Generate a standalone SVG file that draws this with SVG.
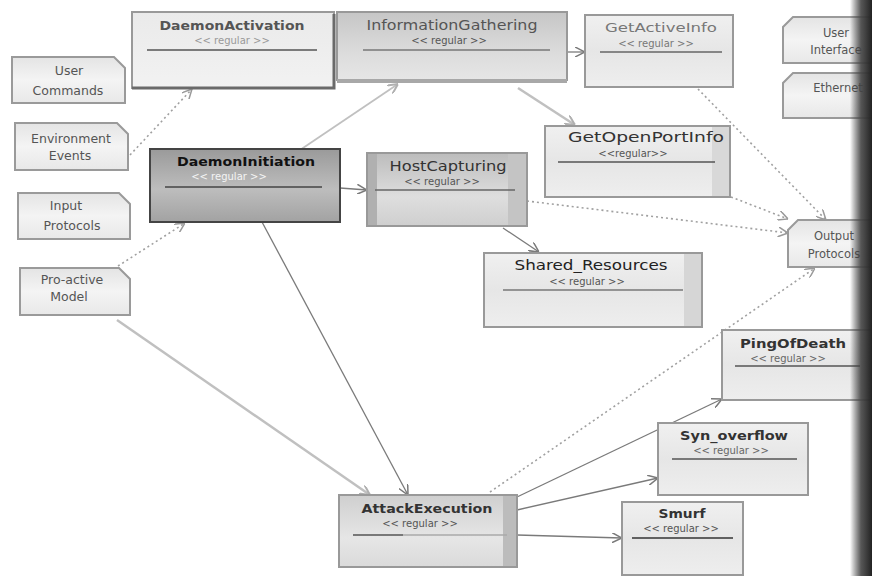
<svg xmlns="http://www.w3.org/2000/svg" width="872" height="576" viewBox="0 0 872 576">
<style>
.t{font-family:"DejaVu Sans","Liberation Sans",sans-serif;font-weight:bold;font-size:13px;fill:#333;text-anchor:middle}
.s{font-family:"DejaVu Sans","Liberation Sans",sans-serif;font-size:10px;fill:#555;text-anchor:middle}
.n{font-family:"DejaVu Sans","Liberation Sans",sans-serif;font-size:12.5px;fill:#555;text-anchor:middle}
.sep{stroke:#555;stroke-width:1.5}
.box{stroke:#999;stroke-width:2}
.note{fill:url(#gNote);stroke:#9a9a9a;stroke-width:2}
.c{fill:none;stroke:#7a7a7a;stroke-width:1.3}
.cl{fill:none;stroke:#c0c0c0;stroke-width:2.5}
.d{fill:none;stroke:#a0a0a0;stroke-width:1.6;stroke-dasharray:2 3}
</style>
<defs>
<linearGradient id="gLight" x1="0" y1="0" x2="0" y2="1"><stop offset="0" stop-color="#f0f0f0"/><stop offset="0.5" stop-color="#e6e6e6"/><stop offset="1" stop-color="#eeeeee"/></linearGradient>
<linearGradient id="gAct" x1="0" y1="0" x2="0" y2="1"><stop offset="0" stop-color="#eaeaea"/><stop offset="1" stop-color="#f2f2f2"/></linearGradient>
<linearGradient id="gInfo" x1="0" y1="0" x2="0" y2="1"><stop offset="0" stop-color="#c6c6c6"/><stop offset="0.6" stop-color="#dcdcdc"/><stop offset="1" stop-color="#e6e6e6"/></linearGradient>
<linearGradient id="gInit" x1="0" y1="0" x2="0" y2="1"><stop offset="0" stop-color="#9a9a9a"/><stop offset="0.55" stop-color="#bdbdbd"/><stop offset="1" stop-color="#a2a2a2"/></linearGradient>
<linearGradient id="gHost" x1="0" y1="0" x2="0" y2="1"><stop offset="0" stop-color="#bcbcbc"/><stop offset="0.6" stop-color="#dedede"/><stop offset="1" stop-color="#cfcfcf"/></linearGradient>
<linearGradient id="gAtk" x1="0" y1="0" x2="0" y2="1"><stop offset="0" stop-color="#cfcfcf"/><stop offset="0.6" stop-color="#e6e6e6"/><stop offset="1" stop-color="#dadada"/></linearGradient>
<linearGradient id="gNote" x1="0" y1="0" x2="0" y2="1"><stop offset="0" stop-color="#e4e4e4"/><stop offset="0.5" stop-color="#f4f4f4"/><stop offset="1" stop-color="#e8e8e8"/></linearGradient>
<linearGradient id="gBand" x1="0" y1="0" x2="1" y2="0"><stop offset="0" stop-color="#333" stop-opacity="0"/><stop offset="0.5" stop-color="#444" stop-opacity="0.9"/><stop offset="1" stop-color="#222"/></linearGradient>
<marker id="a" viewBox="0 0 10 10" refX="10" refY="5" markerWidth="10" markerHeight="10" markerUnits="userSpaceOnUse" orient="auto"><path d="M0,0 L10,5 L0,10" fill="none" stroke="#7a7a7a" stroke-width="1.5"/></marker>
<marker id="al" viewBox="0 0 10 10" refX="10" refY="5" markerWidth="10" markerHeight="10" markerUnits="userSpaceOnUse" orient="auto"><path d="M0,0 L10,5 L0,10" fill="none" stroke="#b0b0b0" stroke-width="2"/></marker>
<marker id="ad" viewBox="0 0 10 10" refX="10" refY="5" markerWidth="10" markerHeight="10" markerUnits="userSpaceOnUse" orient="auto"><path d="M0,0 L10,5 L0,10" fill="none" stroke="#9a9a9a" stroke-width="1.5"/></marker>
</defs>
<rect width="872" height="576" fill="#ffffff"/>

<g id="connectors">
<path class="d" d="M130,155 L192,89" marker-end="url(#ad)"/>
<path class="d" d="M118,266 L185,223" marker-end="url(#ad)"/>
<path class="cl" d="M300,150 L398,84" marker-end="url(#al)" style="stroke-width:1.8"/>
<path class="c" d="M340,188 L367,190" marker-end="url(#a)"/>
<path class="c" d="M567,52 L585,52" marker-end="url(#a)"/>
<path class="cl" d="M518,88 L575,125" marker-end="url(#al)"/>
<path class="c" d="M503,228 L539,252" marker-end="url(#a)"/>
<path class="d" d="M527,201 L788,233" marker-end="url(#ad)"/>
<path class="d" d="M731,197 L788,219" marker-end="url(#ad)"/>
<path class="d" d="M698,89 L826,220" marker-end="url(#ad)"/>
<path class="d" d="M490,492 L815,268" marker-end="url(#ad)"/>
<path class="c" d="M262,222 L408,495" marker-end="url(#a)"/>
<path class="cl" d="M117,320 L370,495" marker-end="url(#al)"/>
<path class="c" d="M517,497 L722,399" marker-end="url(#a)"/>
<path class="c" d="M517,510 L658,478" marker-end="url(#a)"/>
<path class="c" d="M517,535 L622,538" marker-end="url(#a)"/>
</g>

<g id="DaemonActivation">
<rect class="box" x="132" y="12" width="202" height="76" fill="url(#gAct)" stroke="#8a8a8a"/>
<path d="M132,88 H334 V14" fill="none" stroke="#6a6a6a" stroke-width="3"/>
<text class="t" x="232" y="30" textLength="145" lengthAdjust="spacingAndGlyphs" style="fill:#555">DaemonActivation</text>
<text class="s" x="232" y="44" style="fill:#999">&lt;&lt; regular &gt;&gt;</text>
<line class="sep" x1="147" y1="50" x2="317" y2="50"/>
</g>

<g id="InformationGathering">
<rect class="box" x="337" y="12" width="230" height="68" fill="url(#gInfo)" stroke="#9a9a9a"/>
<path d="M337,81 H567" fill="none" stroke="#a8a8a8" stroke-width="4"/>
<text class="t" x="452" y="30" textLength="171" lengthAdjust="spacingAndGlyphs" style="fill:#555;font-weight:normal;font-size:14px">InformationGathering</text>
<text class="s" x="449" y="44">&lt;&lt; regular &gt;&gt;</text>
<line class="sep" x1="363" y1="50" x2="550" y2="50" style="stroke:#777"/>
</g>

<g id="GetActiveInfo">
<rect class="box" x="585" y="15" width="148" height="72" fill="url(#gLight)" stroke="#8f8f8f"/>
<text class="t" x="661" y="32" textLength="112" lengthAdjust="spacingAndGlyphs" style="fill:#777;font-weight:normal">GetActiveInfo</text>
<text class="s" x="656" y="47" style="fill:#777">&lt;&lt; regular &gt;&gt;</text>
<line class="sep" x1="600" y1="52" x2="722" y2="52" style="stroke:#666"/>
</g>

<g id="GetOpenPortInfo">
<rect class="box" x="545" y="126" width="185" height="71" fill="url(#gLight)" stroke="#8f8f8f"/>
<rect x="712" y="127" width="17" height="69" fill="#d8d8d8"/>
<text class="t" x="646" y="142" textLength="156" lengthAdjust="spacingAndGlyphs" style="font-weight:normal;font-size:14px;fill:#333">GetOpenPortInfo</text>
<text class="s" x="633" y="157">&lt;&lt;regular&gt;&gt;</text>
<line class="sep" x1="558" y1="162" x2="715" y2="162"/>
</g>

<g id="DaemonInitiation">
<rect x="150" y="149" width="190" height="73" fill="url(#gInit)" stroke="#444" stroke-width="2"/>
<text class="t" x="246" y="166" textLength="138" lengthAdjust="spacingAndGlyphs" style="fill:#111">DaemonInitiation</text>
<text class="s" x="229" y="180" style="fill:#f4f4f4">&lt;&lt; regular &gt;&gt;</text>
<line class="sep" x1="165" y1="187" x2="322" y2="187" style="stroke:#444"/>
</g>

<g id="HostCapturing">
<rect class="box" x="367" y="153" width="160" height="73" fill="url(#gHost)" stroke="#8a8a8a"/>
<rect x="368" y="154" width="9" height="71" fill="#b0b0b0"/>
<rect x="508" y="154" width="18" height="71" fill="#c4c4c4"/>
<text class="t" x="448" y="171" textLength="117" lengthAdjust="spacingAndGlyphs" style="fill:#333;font-weight:normal;font-size:14px">HostCapturing</text>
<text class="s" x="442" y="185">&lt;&lt; regular &gt;&gt;</text>
<line class="sep" x1="375" y1="190" x2="515" y2="190" style="stroke:#666"/>
</g>

<g id="Shared_Resources">
<rect class="box" x="484" y="253" width="218" height="74" fill="url(#gLight)" stroke="#8f8f8f"/>
<rect x="684" y="254" width="17" height="72" fill="#d6d6d6"/>
<text class="t" x="591" y="270" textLength="153" lengthAdjust="spacingAndGlyphs" style="fill:#222;font-weight:normal;font-size:14px">Shared_Resources</text>
<text class="s" x="587" y="285">&lt;&lt; regular &gt;&gt;</text>
<line class="sep" x1="503" y1="290" x2="683" y2="290" style="stroke:#777"/>
</g>

<g id="PingOfDeath">
<rect class="box" x="722" y="330" width="150" height="70" fill="url(#gLight)" stroke="#8a8a8a"/>
<text class="t" x="793" y="348" textLength="106" lengthAdjust="spacingAndGlyphs" style="fill:#333">PingOfDeath</text>
<text class="s" x="788" y="362" style="fill:#666">&lt;&lt; regular &gt;&gt;</text>
<line class="sep" x1="735" y1="366" x2="860" y2="366"/>
</g>

<g id="Syn_overflow">
<rect class="box" x="658" y="423" width="150" height="72" fill="url(#gLight)" stroke="#8a8a8a"/>
<text class="t" x="734" y="440" textLength="108" lengthAdjust="spacingAndGlyphs" style="fill:#333">Syn_overflow</text>
<text class="s" x="731" y="454" style="fill:#666">&lt;&lt; regular &gt;&gt;</text>
<line class="sep" x1="672" y1="459" x2="797" y2="459"/>
</g>

<g id="Smurf">
<rect class="box" x="622" y="502" width="121" height="73" fill="url(#gLight)" stroke="#8a8a8a"/>
<text class="t" x="682" y="518" textLength="47" lengthAdjust="spacingAndGlyphs" style="fill:#333">Smurf</text>
<text class="s" x="681" y="532" style="fill:#555">&lt;&lt; regular &gt;&gt;</text>
<line class="sep" x1="632" y1="538" x2="733" y2="538" style="stroke:#333"/>
</g>

<g id="AttackExecution">
<rect class="box" x="339" y="495" width="178" height="72" fill="url(#gAtk)" stroke="#777"/>
<rect x="503" y="496" width="13" height="70" fill="#bcbcbc"/>
<text class="t" x="427" y="513" textLength="131" lengthAdjust="spacingAndGlyphs" style="fill:#333">AttackExecution</text>
<text class="s" x="420" y="527" style="fill:#555">&lt;&lt; regular &gt;&gt;</text>
<line class="sep" x1="353" y1="535" x2="403" y2="535" style="stroke:#555"/>
<line class="sep" x1="403" y1="535" x2="507" y2="535" style="stroke:#aaa"/>
</g>

<g id="UserCommands">
<path class="note" d="M12,57 H114 L125,68 V103 H12 Z"/>
<text class="n" x="69" y="75">User</text>
<text class="n" x="68" y="95">Commands</text>
</g>

<g id="EnvironmentEvents">
<path class="note" d="M15,123 H117 L128,134 V170 H15 Z"/>
<text class="n" x="71" y="143">Environment</text>
<text class="n" x="70" y="160">Events</text>
</g>

<g id="InputProtocols">
<path class="note" d="M18,193 H119 L130,204 V239 H18 Z"/>
<text class="n" x="66" y="210">Input</text>
<text class="n" x="72" y="230">Protocols</text>
</g>

<g id="ProactiveModel">
<path class="note" d="M20,268 H119 L130,279 V315 H20 Z"/>
<text class="n" x="72" y="284">Pro-active</text>
<text class="n" x="69" y="301">Model</text>
</g>

<g id="UserInterface">
<path class="note" d="M793,17 H890 V63 H783 V27 Z"/>
<text class="n" x="836" y="37" style="font-size:11.5px">User</text>
<text class="n" x="836" y="54" style="font-size:11.5px">Interface</text>
</g>

<g id="Ethernet">
<path class="note" d="M793,73 H890 V118 H783 V83 Z"/>
<text class="n" x="838" y="92" style="font-size:11.5px">Ethernet</text>
</g>

<g id="OutputProtocols">
<path class="note" d="M798,220 H890 V267 H788 V230 Z"/>
<text class="n" x="834" y="240" style="font-size:11.5px">Output</text>
<text class="n" x="834" y="258" style="font-size:11.5px">Protocols</text>
</g>

<rect x="850" y="0" width="22" height="576" fill="url(#gBand)"/>
</svg>
